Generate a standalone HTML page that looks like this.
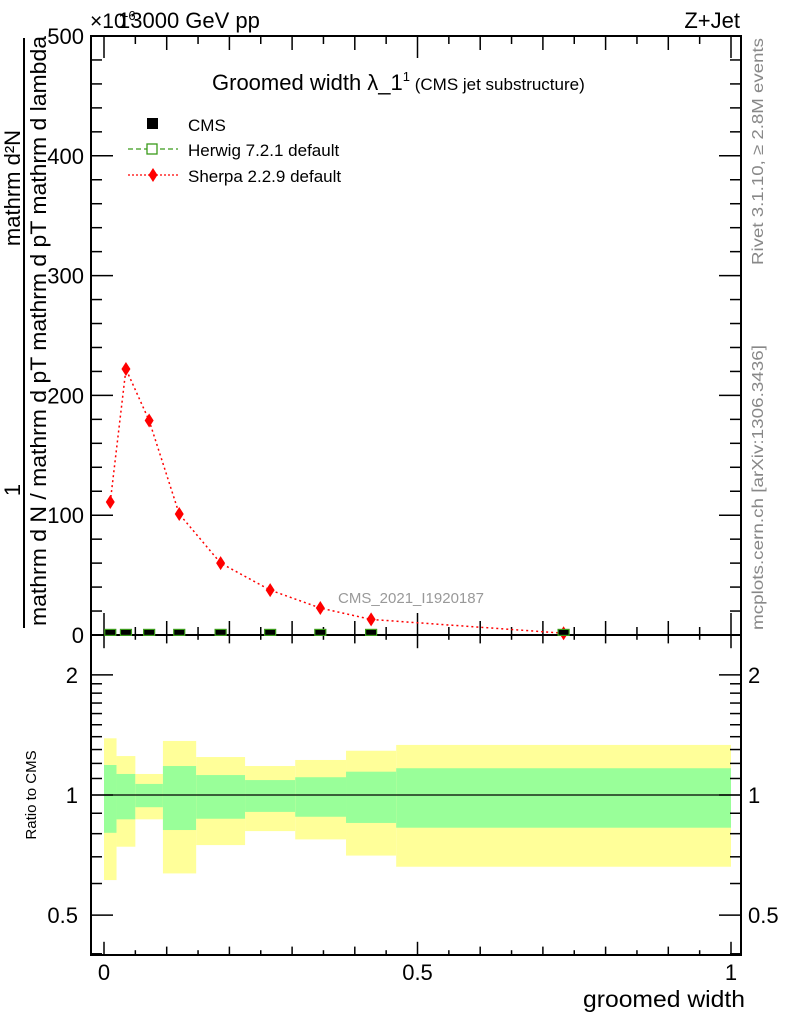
<!DOCTYPE html>
<html><head><meta charset="utf-8"><style>
body{margin:0;background:#fff;}
svg{display:block;font-family:"Liberation Sans",sans-serif;}
</style></head><body>
<svg id="c" width="786" height="1024" viewBox="0 0 786 1024" xmlns="http://www.w3.org/2000/svg"></svg>
<script>
const binEdges=[0,0.02,0.05,0.094,0.147,0.225,0.305,0.386,0.466,1.0];
const sherpaX=[0.01,0.035,0.072,0.12,0.186,0.265,0.345,0.426,0.733];
const sherpaY=[111,222,179,101,60,37.5,22.5,13,1.5];
const cmsY=[0.5,0.5,0.5,0.5,0.5,0.5,0.5,0.5,0.5];
const yellowHi=[1.387,1.252,1.129,1.366,1.245,1.182,1.224,1.291,1.335];
const greenHi=[1.189,1.129,1.066,1.182,1.122,1.090,1.108,1.144,1.167];
const greenLo=[0.804,0.869,0.932,0.817,0.872,0.907,0.882,0.851,0.828];
const yellowLo=[0.612,0.742,0.869,0.636,0.749,0.812,0.774,0.705,0.661];
const yTicks=[0,100,200,300,400,500];
const rTicks=[0.5,1,2];

const NS="http://www.w3.org/2000/svg";
const svg=document.getElementById('c');
function el(t,a,p){const e=document.createElementNS(NS,t);for(const k in a)e.setAttribute(k,a[k]);(p||svg).appendChild(e);return e;}
const L=91,R=741,T=36,M=635,B=955;
const X=v=>104+v*627;
const Y=v=>635-v*1.198;
const RY=r=>795-399*Math.log10(r);

for(let i=0;i<binEdges.length-1;i++){
  const x0=X(binEdges[i]),x1=X(binEdges[i+1]);
  let e=el('rect',{x:x0,y:RY(yellowHi[i]),width:x1-x0,height:RY(yellowLo[i])-RY(yellowHi[i]),fill:'#ffff99'});
  
  
  e=el('rect',{x:x0,y:RY(greenHi[i]),width:x1-x0,height:RY(greenLo[i])-RY(greenHi[i]),fill:'#99ff99'});
  
  
}
let u=el('line',{x1:L,x2:R,y1:RY(1),y2:RY(1),stroke:'#000','stroke-width':1.3});



u=el('rect',{x:L,y:T,width:R-L,height:M-T,fill:'none',stroke:'#000','stroke-width':2});


u=el('rect',{x:L,y:M,width:R-L,height:B-M,fill:'none',stroke:'#000','stroke-width':2});



for(let k=0;k<=20;k++){
  const v=k*0.05,x=X(v);
  const len=(k%10==0)?22:(k%2==0?14:8);
  [[T,1],[M,-1]].forEach(([y0,d])=>el('line',{x1:x,x2:x,y1:y0,y2:y0+d*len,stroke:'#000','stroke-width':1.5}));
  [[M,1],[B,-1]].forEach(([y0,d])=>el('line',{x1:x,x2:x,y1:y0,y2:y0+d*(len*0.6),stroke:'#000','stroke-width':1.5}));
}
for(let v=0;v<=500;v+=20){
  const y=Y(v),len=(v%100==0)?22:11;
  el('line',{x1:L,x2:L+len,y1:y,y2:y,stroke:'#000','stroke-width':1.5});
  el('line',{x1:R,x2:R-len,y1:y,y2:y,stroke:'#000','stroke-width':1.5});
}
yTicks.forEach(v=>{const t=el('text',{x:84,y:Y(v)+8,'text-anchor':'end','font-size':22});t.textContent=v;

});
const minor=[0.4,0.6,0.7,0.8,0.9,1.1,1.2,1.3,1.4,1.5,1.6,1.7,1.8,1.9];
minor.forEach(r=>{const y=RY(r);el('line',{x1:L,x2:L+11,y1:y,y2:y,stroke:'#000','stroke-width':1.5});el('line',{x1:R,x2:R-11,y1:y,y2:y,stroke:'#000','stroke-width':1.5});});
rTicks.forEach(r=>{const y=RY(r);
el('line',{x1:L,x2:L+22,y1:y,y2:y,stroke:'#000','stroke-width':1.5});el('line',{x1:R,x2:R-22,y1:y,y2:y,stroke:'#000','stroke-width':1.5});
let t=el('text',{x:78,y:y+8,'text-anchor':'end','font-size':22});t.textContent=r;


t=el('text',{x:748,y:y+8,'font-size':22});t.textContent=r;

});
[[0,'0'],[0.5,'0.5'],[1,'1']].forEach(([v,s])=>{const t=el('text',{x:X(v),y:980,'text-anchor':'middle','font-size':22});t.textContent=s;

});

let d='';sherpaX.forEach((v,i)=>{d+=(i?'L':'M')+X(v)+' '+Y(sherpaY[i]);});
u=el('path',{d:d,fill:'none',stroke:'#f00','stroke-width':1.5,'stroke-dasharray':'2,3'});


sherpaX.forEach((v,i)=>{const x=X(v),y=Y(sherpaY[i]);
const p=el('polygon',{points:`${x},${y-7} ${x+4.5},${y} ${x},${y+7} ${x-4.5},${y}`,fill:'#f00'});

});
sherpaX.forEach((v,i)=>{const x=X(v),y=Y(cmsY[i]);
const h=el('rect',{x:x-5.5,y:y-5,width:11,height:6,fill:'#000',stroke:'#3a9a1a','stroke-width':1.2});

});

function txt(s,a,name){const t=el('text',a);t.textContent=s;return t;}
txt('13000 GeV pp',{x:118,y:28,'font-size':22},'energy-label');
txt('×10',{x:90,y:28,'font-size':21},'y-multiplier');
txt('-6',{x:124,y:20,'font-size':13},'y-multiplier-exp');
txt('Z+Jet',{x:740,y:28,'text-anchor':'end','font-size':22},'process-label');
const ti=txt('',{x:212,y:90,'font-size':22},'plot-title');
ti.innerHTML='Groomed width λ_1<tspan dy="-9" font-size="13">1</tspan><tspan dy="9" font-size="17"> (CMS jet substructure)</tspan>';
txt('CMS_2021_I1920187',{x:338,y:603,'font-size':15,fill:'#999'},'analysis-id');
u=el('rect',{x:147,y:118,width:11,height:11,fill:'#000'});


txt('CMS',{x:188,y:131,'font-size':17},'legend-cms');
el('line',{x1:128,x2:178,y1:149,y2:149,stroke:'#3a9a1a','stroke-width':1.3,'stroke-dasharray':'5,3'});
u=el('rect',{x:147,y:144,width:10,height:10,fill:'#fff',stroke:'#3a9a1a','stroke-width':1.3});


txt('Herwig 7.2.1 default',{x:188,y:156,'font-size':17},'legend-herwig');
el('line',{x1:128,x2:178,y1:175,y2:175,stroke:'#f00','stroke-width':1.3,'stroke-dasharray':'2,2'});
u=el('polygon',{points:'153,168 157.5,175 153,182 148.5,175',fill:'#f00'});


txt('Sherpa 2.2.9 default',{x:188,y:182,'font-size':17},'legend-sherpa');
txt('Rivet 3.1.10, ≥ 2.8M events',{x:0,y:0,'font-size':16,fill:'#888',textLength:227,lengthAdjust:'spacingAndGlyphs',transform:'translate(763,265) rotate(-90)'},'rivet-label');
txt('mcplots.cern.ch [arXiv:1306.3436]',{x:0,y:0,'font-size':16,fill:'#888',textLength:285,lengthAdjust:'spacingAndGlyphs',transform:'translate(763,630) rotate(-90)'},'mcplots-label');
txt('1',{x:0,y:0,'font-size':22,'text-anchor':'middle',transform:'translate(20,490) rotate(-90)'},'y-label-one');
txt('mathrm d²N',{x:0,y:0,'font-size':22,'text-anchor':'middle',transform:'translate(20,188) rotate(-90)'},'y-label-num');
u=el('line',{x1:24,x2:24,y1:38,y2:628,stroke:'#000','stroke-width':2});


const yl=txt('',{x:0,y:0,'font-size':22,transform:'translate(46,626) rotate(-90)',textLength:590,lengthAdjust:'spacingAndGlyphs'},'y-axis-title');
yl.textContent='mathrm d N / mathrm d pT mathrm d pT mathrm d lambda';
txt('Ratio to CMS',{x:0,y:0,'font-size':15,'text-anchor':'middle',transform:'translate(36,795) rotate(-90)'},'ratio-axis-title');
txt('groomed width',{x:745,y:1007,'text-anchor':'end','font-size':23,textLength:162,lengthAdjust:'spacingAndGlyphs'},'x-axis-title');
</script>
</body></html>
